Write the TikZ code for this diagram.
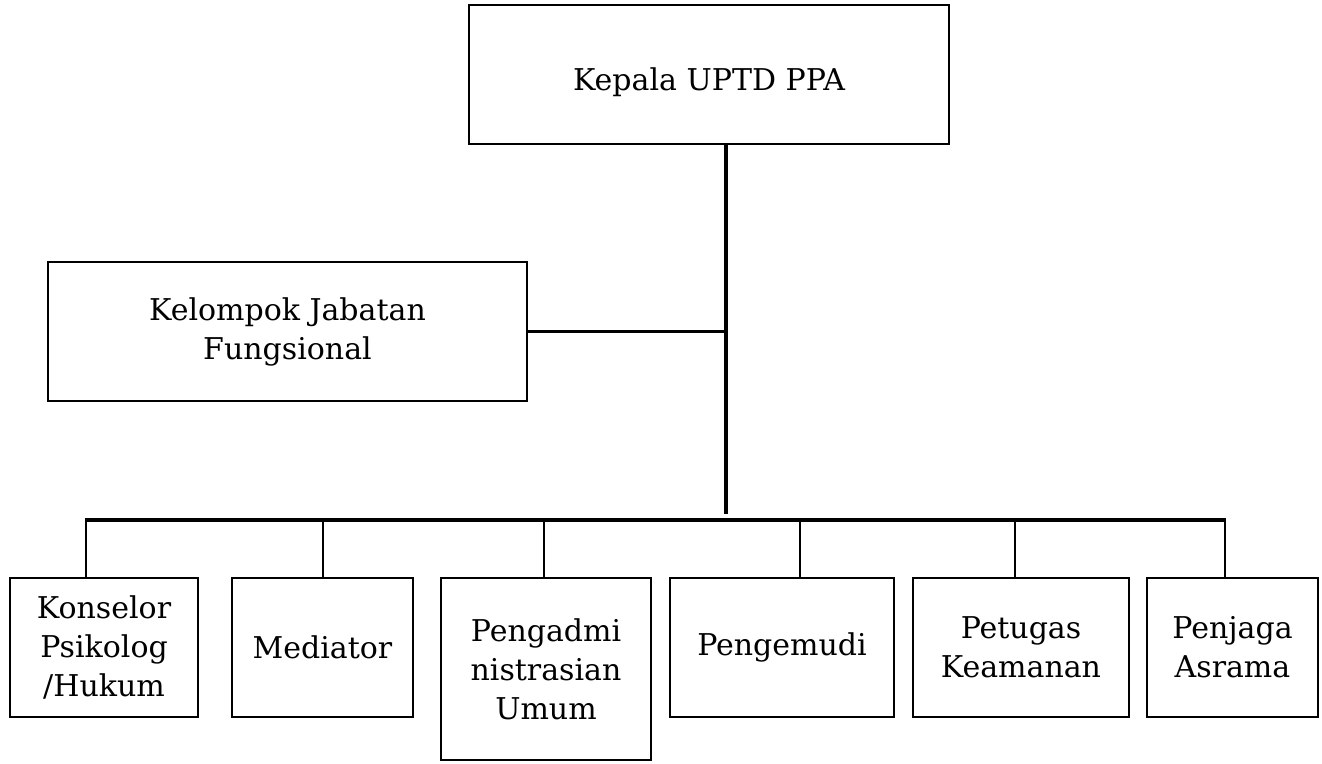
\documentclass[tikz,border=0pt]{standalone}
\usepackage{fontspec}
\setmainfont{DejaVu Serif}
\begin{document}
\begin{tikzpicture}[x=1pt,y=-1pt,
  box/.style={draw=black,line width=2.8pt,rectangle,inner sep=0pt,align=center,
    font=\fontsize{30}{39}\selectfont},
  thickline/.style={line width=4pt},
  thinline/.style={line width=2.8pt}]
\useasboundingbox (0,0) rectangle (1322,763);
\fill[white] (0,0) rectangle (1322,763);
% boxes
\node[box,minimum width=480pt,minimum height=139pt,text height=31pt,text depth=0pt] (top) at (709,74.5) {Kepala UPTD PPA};
\node[box,minimum width=479pt,minimum height=139pt] (kjf) at (287.5,331.5) {Kelompok Jabatan\\Fungsional};
\node[box,minimum width=188pt,minimum height=139pt] (k1) at (104,647.5) {Konselor\\Psikolog\\/Hukum};
\node[box,minimum width=181pt,minimum height=139pt] (k2) at (322.5,647.5) {Mediator};
\node[box,minimum width=210pt,minimum height=182pt] (k3) at (546,669) {Pengadmi\\nistrasian\\Umum};
\node[box,minimum width=224pt,minimum height=139pt] (k4) at (782,647.5) {Pengemudi};
\node[box,minimum width=216pt,minimum height=139pt] (k5) at (1021,647.5) {Petugas\\Keamanan};
\node[box,minimum width=171pt,minimum height=139pt] (k6) at (1232.5,647.5) {Penjaga\\Asrama};
% coordinates
\coordinate (c0) at (726,144);
\coordinate (cend) at (726,514);
\coordinate (b1) at (86,520);
\coordinate (b2) at (323,520);
\coordinate (b3) at (544,520);
\coordinate (b4) at (800,520);
\coordinate (b5) at (1015,520);
\coordinate (b6) at (1225,520);
% connectors
\draw[thickline] (c0) -- (cend);
\draw[thinline] (kjf.east) -- (kjf.east -| c0);
\draw[thickline] ([xshift=-1.4pt]b1) -- ([xshift=1.4pt]b6);
\foreach \i in {1,...,6}{
  \draw[thinline] (b\i) -- (b\i |- k\i.north);
}
\end{tikzpicture}
\end{document}
